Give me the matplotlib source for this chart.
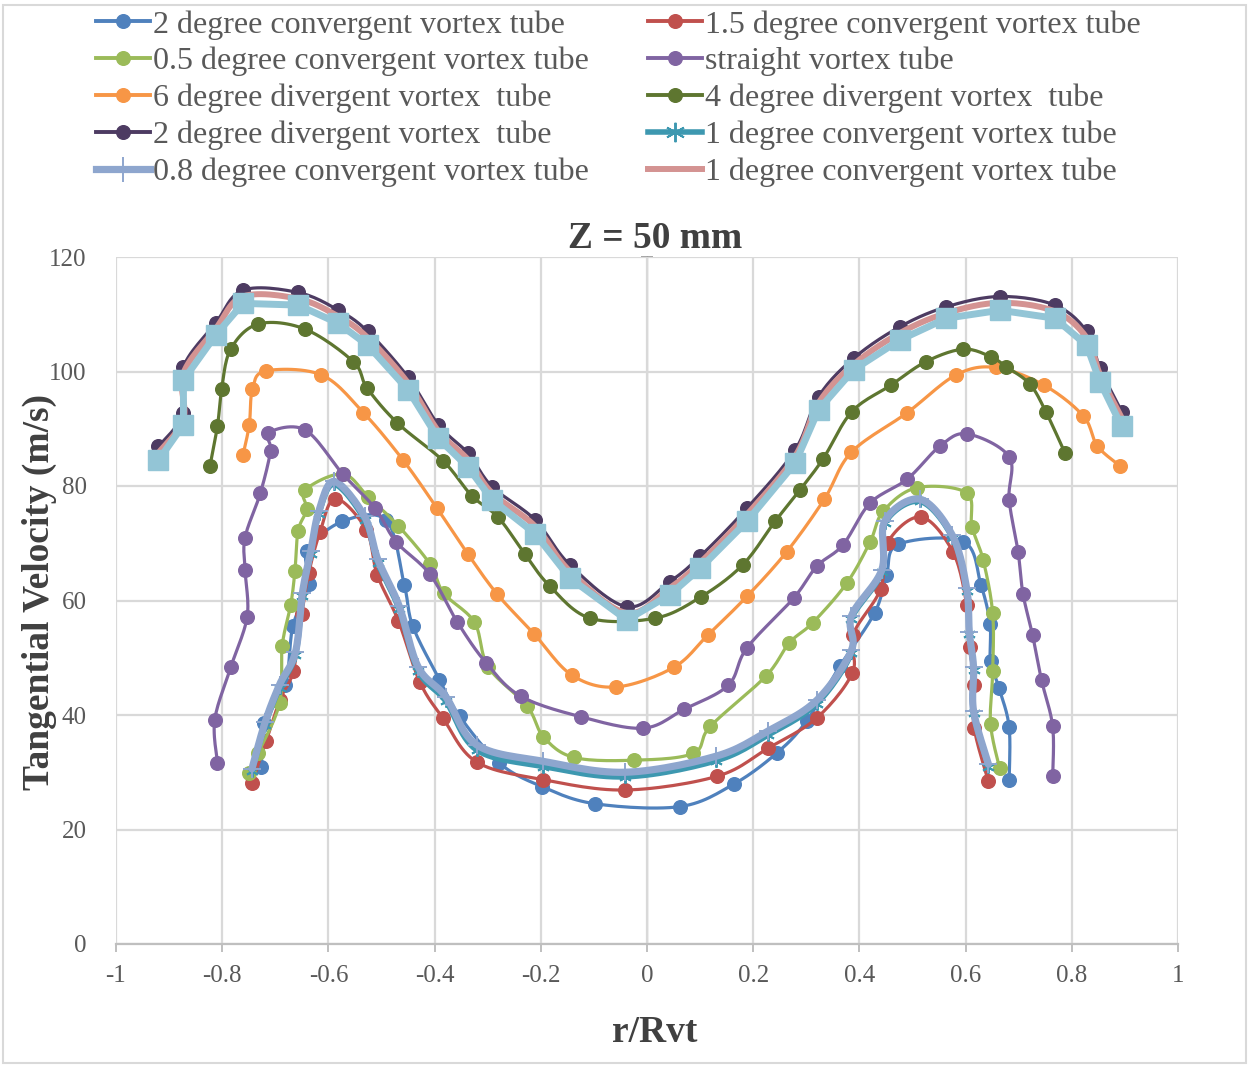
import matplotlib
matplotlib.use("Agg")
import matplotlib.pyplot as plt
import numpy as np
from matplotlib.lines import Line2D
from matplotlib.patches import Rectangle

# ---- data (r/Rvt, tangential velocity m/s) ----
r_conv2 = [-0.726, -0.721, -0.681, -0.667, -0.636, -0.640, -0.574, -0.491, -0.457, -0.441, -0.391, -0.353,
           -0.278, -0.198, -0.098, 0.062, 0.163, 0.245, 0.301, 0.363, 0.429, 0.451, 0.473, 0.596, 0.629,
           0.646, 0.647, 0.663, 0.682, 0.682]
v_conv2 = [30.9, 38.6, 45.2, 55.5, 62.9, 68.7, 73.8, 74.0, 62.7, 55.5, 46.2, 39.8,
           31.6, 27.5, 24.5, 24.0, 27.9, 33.4, 39.0, 48.5, 57.9, 64.5, 69.8, 70.3, 62.7,
           55.9, 49.4, 44.7, 37.9, 28.6]

r_conv15 = [-0.744, -0.717, -0.691, -0.666, -0.650, -0.637, -0.616, -0.587, -0.529, -0.508, -0.468, -0.428,
            -0.384, -0.321, -0.195, -0.041, 0.132, 0.228, 0.320, 0.387, 0.388, 0.440, 0.453, 0.516,
            0.576, 0.602, 0.608, 0.616, 0.616, 0.643]
v_conv15 = [28.1, 35.5, 42.7, 47.7, 57.7, 64.8, 71.9, 77.8, 72.4, 64.5, 56.4, 45.8,
            39.4, 31.8, 28.7, 26.9, 29.3, 34.2, 39.5, 47.4, 54.0, 62.0, 70.1, 74.6,
            68.5, 59.3, 51.9, 45.2, 37.8, 28.4]

r_conv05 = [-0.749, -0.732, -0.692, -0.687, -0.671, -0.663, -0.657, -0.641, -0.644, -0.573, -0.525, -0.469,
            -0.409, -0.383, -0.325, -0.299, -0.226, -0.195, -0.138, -0.025, 0.087, 0.119, 0.224, 0.268,
            0.312, 0.376, 0.420, 0.445, 0.508, 0.602, 0.612, 0.633, 0.651, 0.651, 0.647, 0.664]
v_conv05 = [29.9, 33.4, 42.1, 52.1, 59.2, 65.2, 72.2, 75.9, 79.3, 82.1, 78.1, 73.1,
            66.4, 61.3, 56.2, 48.4, 41.6, 36.2, 32.6, 32.1, 33.3, 38.0, 46.8, 52.6,
            56.1, 63.0, 70.2, 75.6, 79.7, 78.8, 72.9, 67.1, 57.8, 47.6, 38.5, 30.7]

r_straight = [-0.809, -0.814, -0.784, -0.753, -0.757, -0.757, -0.728, -0.709, -0.713, -0.644, -0.573, -0.512,
              -0.473, -0.409, -0.357, -0.303, -0.238, -0.125, -0.007, 0.070, 0.153, 0.188, 0.276, 0.320,
              0.369, 0.420, 0.490, 0.552, 0.603, 0.682, 0.682, 0.699, 0.708, 0.726, 0.743, 0.764, 0.764]
v_straight = [31.7, 39.2, 48.3, 57.2, 65.3, 71.0, 78.8, 86.2, 89.3, 89.8, 82.1, 76.1,
              70.3, 64.6, 56.2, 49.1, 43.3, 39.7, 37.7, 41.0, 45.2, 51.7, 60.4, 66.0,
              69.7, 77.0, 81.2, 87.0, 89.1, 85.1, 77.6, 68.4, 61.2, 54.0, 46.1, 38.0, 29.3]

r_div6 = [-0.761, -0.749, -0.743, -0.718, -0.613, -0.534, -0.460, -0.396, -0.338, -0.282, -0.213, -0.142,
          -0.058, 0.050, 0.115, 0.188, 0.263, 0.334, 0.385, 0.490, 0.582, 0.657, 0.748, 0.822, 0.848, 0.891]
v_div6 = [85.4, 90.7, 96.9, 100.1, 99.4, 92.8, 84.6, 76.2, 68.2, 61.1, 54.2, 47.0,
          44.9, 48.3, 54.0, 60.7, 68.5, 77.7, 85.9, 92.8, 99.4, 100.7, 97.6, 92.2, 87.0, 83.5]

r_div4 = [-0.823, -0.809, -0.801, -0.784, -0.732, -0.644, -0.553, -0.527, -0.470, -0.384, -0.330, -0.280,
          -0.230, -0.183, -0.107, 0.015, 0.101, 0.180, 0.241, 0.288, 0.332, 0.386, 0.459, 0.525,
          0.595, 0.647, 0.677, 0.721, 0.751, 0.787]
v_div4 = [83.5, 90.4, 96.9, 103.9, 108.3, 107.4, 101.7, 97.1, 91.0, 84.4, 78.3, 74.5,
          68.1, 62.5, 56.9, 56.9, 60.6, 66.2, 73.8, 79.3, 84.8, 93.0, 97.6, 101.7,
          103.9, 102.6, 100.8, 97.8, 93.0, 85.8]

r_top = [-0.920, -0.873, -0.873, -0.812, -0.761, -0.657, -0.581, -0.526, -0.450, -0.393, -0.337, -0.292,
         -0.211, -0.145, -0.038, 0.043, 0.100, 0.188, 0.279, 0.323, 0.389, 0.476, 0.564, 0.665,
         0.768, 0.828, 0.853, 0.894]
v_div2 = [86.9, 92.7, 100.8, 108.5, 114.2, 113.8, 110.7, 107.0, 99.0, 90.7, 85.7, 79.9,
          74.1, 66.2, 58.9, 63.3, 67.7, 76.1, 86.3, 95.6, 102.3, 107.8, 111.3, 113.1,
          111.6, 107.0, 100.6, 93.0]
v_conv1_pink = [85.8, 91.7, 99.7, 107.5, 113.1, 112.7, 109.6, 105.9, 98.0, 89.6, 84.6, 78.8,
                73.0, 65.1, 57.8, 62.2, 66.6, 75.0, 85.2, 94.5, 101.2, 106.7, 110.2, 112.0,
                110.5, 105.9, 99.5, 91.9]
v_squares = [84.5, 90.7, 98.5, 106.4, 111.9, 111.6, 108.4, 104.6, 96.8, 88.3, 83.3, 77.6,
             71.7, 63.9, 56.6, 61.0, 65.6, 73.8, 84.0, 93.3, 100.3, 105.5, 109.3, 110.7,
             109.3, 104.6, 98.2, 90.4]

r_conv1 = [-0.744, -0.719, -0.692, -0.662, -0.649, -0.633, -0.618, -0.589, -0.532, -0.507, -0.467, -0.431,
           -0.379, -0.321, -0.195, -0.041, 0.130, 0.228, 0.320, 0.385, 0.385, 0.442, 0.448, 0.514,
           0.575, 0.602, 0.607, 0.615, 0.615, 0.643]
v_conv1 = [30.2, 38.3, 44.8, 50.5, 60.8, 68.2, 75.1, 80.3, 74.1, 66.6, 58.5, 47.7,
           42.4, 33.9, 31.0, 29.2, 32.0, 36.5, 42.0, 50.8, 56.8, 64.9, 73.5, 77.3,
           71.0, 61.7, 54.1, 47.9, 40.3, 31.0]
v_conv08 = [30.6, 38.8, 45.3, 51.0, 61.3, 68.7, 75.6, 80.8, 74.7, 67.2, 59.1, 48.4,
            43.2, 34.8, 31.9, 30.0, 32.8, 37.2, 42.6, 51.3, 57.3, 65.3, 73.9, 77.7,
            71.4, 62.1, 54.5, 48.3, 40.7, 31.4]

x_ticks = [-1, -0.8, -0.6, -0.4, -0.2, 0, 0.2, 0.4, 0.6, 0.8, 1]
x_tick_labels = ["-1", "-0.8", "-0.6", "-0.4", "-0.2", "0", "0.2", "0.4", "0.6", "0.8", "1"]
y_ticks = [0, 20, 40, 60, 80, 100, 120]


def smooth(xs, ys, n=14):
    # Excel-like smoothed line: cubic bezier through points (catmull-rom tangents)
    p = np.column_stack([xs, ys]).astype(float)
    pe = np.vstack([p[0], p, p[-1]])
    t = np.linspace(0, 1, n, endpoint=False)[:, None]
    out = []
    for i in range(1, len(pe) - 2):
        p0, p1, p2, p3 = pe[i - 1], pe[i], pe[i + 1], pe[i + 2]
        c1 = p1 + (p2 - p0) / 6
        c2 = p2 - (p3 - p1) / 6
        out.append((1 - t) ** 3 * p1 + 3 * (1 - t) ** 2 * t * c1 + 3 * (1 - t) * t ** 2 * c2 + t ** 3 * p2)
    out.append(p[-1:])
    s = np.vstack(out)
    return s[:, 0], s[:, 1]


plt.rcParams['font.family'] = ['Liberation Serif', 'DejaVu Serif']

fig = plt.figure(figsize=(12.49, 10.66), dpi=100)
ax = fig.add_axes([116 / 1249, 1 - 944 / 1066, (1178 - 116) / 1249, (944 - 257) / 1066])

# (label, r, v, color, line width, marker, marker size, smooth)
series = [
    ("2 degree convergent vortex tube", r_conv2, v_conv2, "#4F81BD", 2.3, "o", 9.8, True),
    ("1.5 degree convergent vortex tube", r_conv15, v_conv15, "#C0504D", 2.3, "o", 9.8, True),
    ("0.5 degree convergent vortex tube", r_conv05, v_conv05, "#9BBB59", 2.3, "o", 9.8, True),
    ("1 degree convergent vortex tube", r_conv1, v_conv1, "#3D98B0", 4.0, "x", 9, True),
    ("0.8 degree convergent vortex tube", r_conv1, v_conv08, "#8EA6CE", 5.2, "+", 13, True),
    ("straight vortex tube", r_straight, v_straight, "#8064A2", 2.3, "o", 9.8, True),
    ("6 degree divergent vortex  tube", r_div6, v_div6, "#F79646", 2.3, "o", 9.8, True),
    ("4 degree divergent vortex  tube", r_div4, v_div4, "#5E7630", 2.3, "o", 9.8, True),
    ("2 degree divergent vortex  tube", r_top, v_div2, "#4D3B62", 2.3, "o", 9.8, True),
    ("1 degree convergent vortex tube ", r_top, v_conv1_pink, "#D49392", 4.3, None, 0, True),
    ("squares", r_top, v_squares, "#93C5D6", 5.0, "s", 14, False),
]

handles = {}
for z, (lab, r, v, col, lw, mk, ms, sm) in enumerate(series):
    if sm:
        sx, sy = smooth(r, v)
    else:
        sx, sy = r, v
    ax.plot(sx, sy, color=col, lw=lw, solid_capstyle='round', solid_joinstyle='round', zorder=3 + z)
    if mk == "x":
        ax.plot(r, v, ls='none', marker=(6, 2, 0), ms=ms, mec=col, mew=1.4, zorder=3 + z)
        h = Line2D([], [], color=col, lw=lw, marker=(6, 2, 0), ms=ms + 5, mec=col, mew=1.4)
    elif mk == "+":
        ax.plot(r, v, ls='none', marker='+', ms=ms, mec=col, mew=1.4, zorder=3 + z)
        h = Line2D([], [], color=col, lw=lw, marker='+', ms=ms + 5, mec=col, mew=1.4)
    elif mk is None:
        h = Line2D([], [], color=col, lw=lw)
    else:
        ax.plot(r, v, ls='none', marker=mk, ms=ms, mfc=col, mec=col, zorder=3 + z)
        h = Line2D([], [], color=col, lw=2.8, marker=mk, ms=ms, mfc=col, mec=col)
    handles[lab] = h

ax.set_xlim(-1, 1)
ax.set_ylim(0, 120)
ax.set_xticks(x_ticks)
ax.set_xticklabels(x_tick_labels)
ax.set_yticks(y_ticks)
ax.grid(True, color="#D9D9D9", lw=1.6, zorder=0)
ax.set_axisbelow(True)
for s in ["left", "right", "top"]:
    ax.spines[s].set_visible(False)
ax.spines["bottom"].set_color("#BFBFBF")
ax.spines["bottom"].set_linewidth(1.6)
ax.tick_params(axis='x', colors="#BFBFBF", length=6, width=1.4, labelcolor="#595959",
               labelsize=18, pad=9)
ax.tick_params(axis='y', length=0, labelcolor="#595959", labelsize=18, pad=21)

# vertical axis line crossing at r = 0
sec = ax.secondary_yaxis(0.5)
sec.set_yticks(y_ticks)
sec.set_yticklabels([])
sec.spines["left"].set_color("#A6A6A6")
sec.spines["left"].set_linewidth(1.6)
sec.tick_params(axis='y', direction='inout', length=8, width=1.4, colors="#A6A6A6")

fig.text(655 / 1249, 1 - 238 / 1066, "Z = 50 mm", fontsize=27, fontweight='bold', color="#404040",
         ha='center', va='center')
ax.set_xlabel("r/Rvt", fontsize=27, fontweight='bold', color="#404040")
ax.xaxis.set_label_coords(0.5075, -0.103)
ax.set_ylabel("Tangential Velocity (m/s)", fontsize=27, fontweight='bold', color="#404040")
ax.yaxis.set_label_coords(-0.056, 0.512)

order = ["2 degree convergent vortex tube", "0.5 degree convergent vortex tube",
         "6 degree divergent vortex  tube", "2 degree divergent vortex  tube",
         "0.8 degree convergent vortex tube",
         "1.5 degree convergent vortex tube", "straight vortex tube",
         "4 degree divergent vortex  tube", "1 degree convergent vortex tube",
         "1 degree convergent vortex tube "]
fig.legend([handles[k] for k in order], [k.rstrip() for k in order],
           ncol=2, loc='upper left', bbox_to_anchor=(96 / 1249, 1 - 10 / 1066), frameon=False,
           fontsize=23, labelcolor="#595959", handlelength=1.7, handletextpad=0.08,
           columnspacing=1.85, labelspacing=0.23, borderaxespad=0, borderpad=0)

fig.patches.append(Rectangle((3 / 1249, 3 / 1066), 1243 / 1249, 1058 / 1066, transform=fig.transFigure,
                             fill=False, edgecolor="#D9D9D9", lw=1.5))

fig.savefig("out.png", dpi=100)
